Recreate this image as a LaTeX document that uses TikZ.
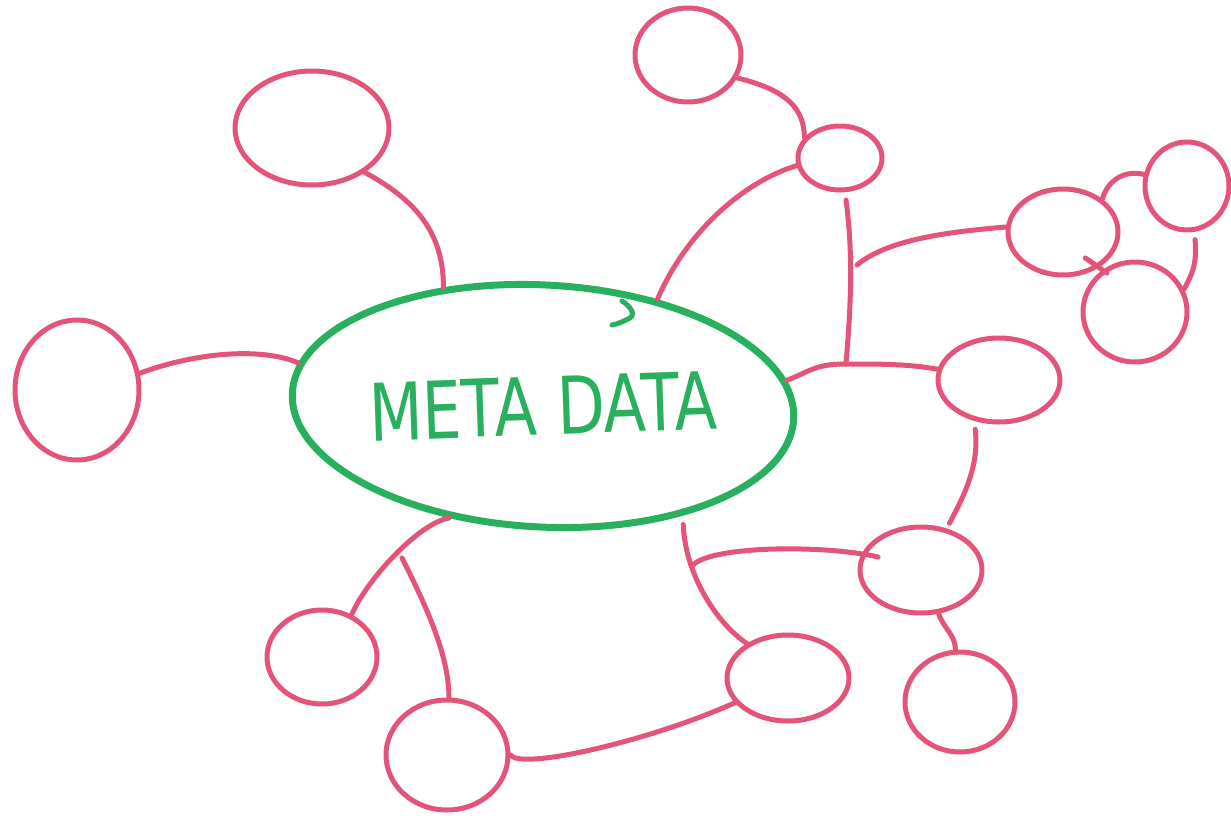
\documentclass[tikz,border=0pt]{standalone}
\usepackage{amsmath,amssymb}
\usepackage{color}
\usepackage{graphicx}
\usepackage{fontspec}
\setsansfont{DejaVu Sans}
\usepackage{tikz}
\usetikzlibrary{shapes,arrows,shapes.geometric,positioning,calc}
\definecolor{linkcol}{rgb}{0.89,0.33,0.47}
\definecolor{metacol}{rgb}{0.16,0.69,0.37}

\begin{document}
\begin{tikzpicture}[x=1bp,y=-1bp,line join=bevel,line cap=round,
  leaf/.style={draw=linkcol,ellipse,line width=5bp,inner sep=0pt},
  link/.style={draw=linkcol,line width=5bp},
  core/.style={draw=metacol,ellipse,line width=7bp,inner sep=0pt}]
\useasboundingbox (0,0) rectangle (1231,827);
\node[core,minimum width=502bp,minimum height=242bp,rotate=-3,text=metacol] (meta) at (543,406)
  {\rotatebox{5}{\resizebox{348bp}{58bp}{\sffamily META DATA}}};
\draw[metacol,line width=5bp] (622,301) .. controls (630,306) and (636,314) .. (630,318) .. controls (624,321) and (618,324) .. (612,325);
\node[leaf,minimum width=154bp,minimum height=114bp] (tl) at (312,128) {};
\node[leaf,minimum width=124bp,minimum height=140bp] (lf) at (77,390) {};
\node[leaf,minimum width=106bp,minimum height=94bp] (tp) at (688,55) {};
\node[leaf,minimum width=84bp,minimum height=64bp] (sm) at (840,158) {};
\node[leaf,minimum width=110bp,minimum height=86bp] (ra) at (1063,232) {};
\node[leaf,minimum width=84bp,minimum height=88bp] (rb) at (1187,186) {};
\node[leaf,minimum width=104bp,minimum height=100bp] (rc) at (1135,312) {};
\node[leaf,minimum width=122bp,minimum height=84bp] (rm) at (999,380) {};
\node[leaf,minimum width=122bp,minimum height=86bp] (lm) at (921,570) {};
\node[leaf,minimum width=110bp,minimum height=100bp] (lr) at (960,702) {};
\node[leaf,minimum width=122bp,minimum height=86bp] (bm) at (788,678) {};
\node[leaf,minimum width=122bp,minimum height=110bp] (bb) at (447,755) {};
\node[leaf,minimum width=110bp,minimum height=94bp] (bl) at (322,657) {};
\coordinate (jr) at (846,364);
\coordinate (ja) at (857,265);
\coordinate (jb) at (693,565);
\coordinate (jl) at (402,558);
\draw[link] (tl.-40) .. controls +(45,25) and +(0,-60) .. (meta.133);
\draw[link] (lf.15) .. controls +(60,-22) and +(-35,-15) .. (meta.173);
\draw[link] (meta.46) .. controls +(30,-70) and +(-50,15) .. (sm.190);
\draw[link] (tp.-25) .. controls +(40,10) and +(0,-35) .. (sm.150);
\draw[link] (meta.9) .. controls +(25,-10) and +(-30,0) .. (jr) .. controls +(40,0) and +(-30,-5) .. (rm.170);
\draw[link] ([yshift=-8bp]sm.-80) .. controls +(8,60) and +(4,-50) .. (jr);
\draw[link] (ja) .. controls +(30,-25) and +(-60,5) .. (ra.175);
\draw[link] (ra.40) .. controls +(5,-18) and +(-20,-5) .. (rb.165);
\draw[link] ([yshift=16bp]ra.-62) -- ([yshift=-6bp]rc.122);
\draw[link] ([yshift=-8bp]rb.-80) .. controls +(2,25) and +(8,-15) .. (rc.25);
\draw[link] ([yshift=-8bp]rm.-120) .. controls +(5,40) and +(10,-20) .. ([yshift=6bp]lm.55);
\draw[link] (lm.-68) .. controls +(5,15) and +(0,-15) .. (lr.95);
\draw[link] ([yshift=-9bp]meta.-35) .. controls +(2,50) and +(-30,-20) .. (bm.140);
\draw[link] (jb) .. controls +(20,-20) and +(-50,-12) .. ([xshift=18bp]lm.168);
\draw[link] (meta.-127) .. controls +(-30,5) and +(15,-35) .. (bl.55);
\draw[link] (jl) .. controls +(20,40) and +(0,-45) .. (bb.88);
\draw[link] (bb.0) .. controls +(10,15) and +(-90,40) .. (bm.-155);
\end{tikzpicture}
\end{document}
